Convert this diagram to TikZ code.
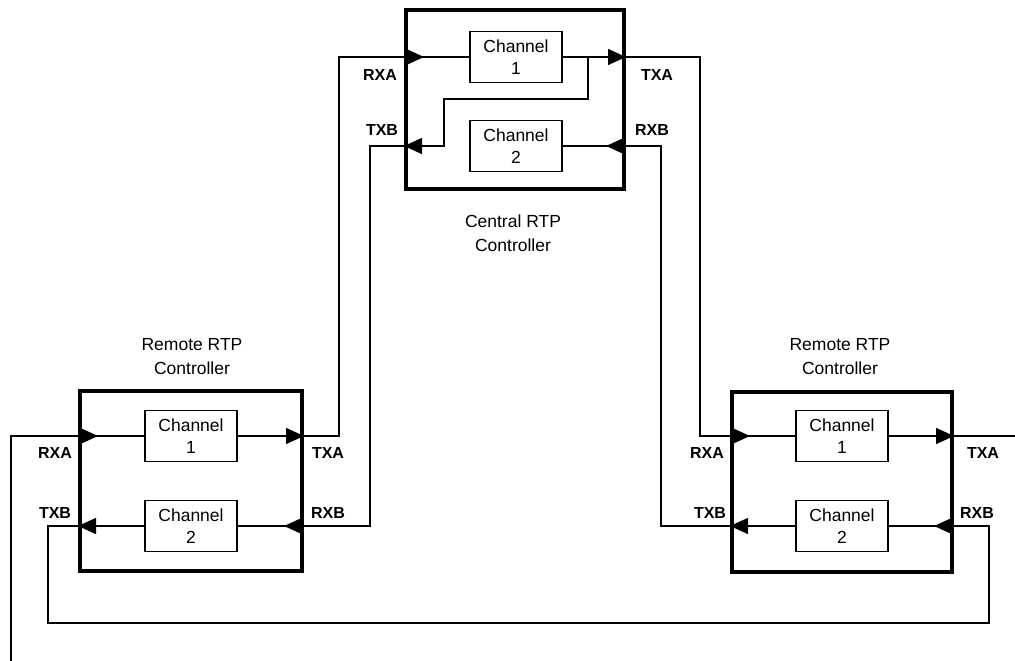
\documentclass[tikz,border=0pt]{standalone}
\usepackage{fontspec}
\setmainfont{Liberation Sans}
\usetikzlibrary{arrows.meta}
\begin{document}
\begin{tikzpicture}[x=1pt,y=-1pt,
  ctrlbox/.style={draw,line width=4pt,inner sep=0pt},
  chan/.style={draw,line width=1.2pt,minimum width=92pt,minimum height=51pt,inner sep=0pt,align=center,font=\fontsize{17.5}{22}\selectfont},
  wire/.style={line width=1.4pt},
  tip/.style={line width=1.4pt,-{Triangle[length=18pt,width=16pt]}},
  port/.style={font=\bfseries\fontsize{16}{18}\selectfont},
  title/.style={align=center,font=\fontsize{17.5}{24}\selectfont}]
\useasboundingbox (0,0) rectangle (1015,661);

% Central controller
\node[ctrlbox,minimum width=218pt,minimum height=179pt] (C) at (515,99.5) {};
\node[chan] (C1) at (516,57) {Channel\\1};
\node[chan] (C2) at (516,146) {Channel\\2};
\node[title] (Ct) at (513,233) {Central RTP\\Controller};

% Left remote controller
\node[ctrlbox,minimum width=222pt,minimum height=180pt] (L) at (191,481) {};
\node[chan] (L1) at (191,436) {Channel\\1};
\node[chan] (L2) at (191,526) {Channel\\2};
\node[title] (Lt) at (192,357) {Remote RTP\\Controller};

% Right remote controller
\node[ctrlbox,minimum width=220pt,minimum height=180pt] (R) at (842,481.5) {};
\node[chan] (R1) at (842,436) {Channel\\1};
\node[chan] (R2) at (842,526) {Channel\\2};
\node[title] (Rt) at (840,357) {Remote RTP\\Controller};

% port points
\coordinate (CRXA) at (C.west |- C1.west);
\coordinate (CTXA) at (C.east |- C1.east);
\coordinate (CTXB) at (C.west |- C2.west);
\coordinate (CRXB) at (C.east |- C2.east);
\coordinate (LRXA) at (L.west |- L1.west);
\coordinate (LTXA) at (L.east |- L1.east);
\coordinate (LTXB) at (L.west |- L2.west);
\coordinate (LRXB) at (L.east |- L2.east);
\coordinate (RRXA) at (R.west |- R1.west);
\coordinate (RTXA) at (R.east |- R1.east);
\coordinate (RTXB) at (R.west |- R2.west);
\coordinate (RRXB) at (R.east |- R2.east);
\coordinate (Cbr) at (588,57);
\coordinate (Cmid) at (444,99);
\coordinate (bot) at (48,623);
\coordinate (inL) at (11,661);
\coordinate (outR) at (1015,436);

% internal wiring, central
\draw[tip] (CRXA) -- ++(20,0);
\draw[wire] (CRXA) -- (C1.west);
\draw[tip] (C1.east) -- (CTXA);
\draw[tip] (Cbr) |- (Cmid) |- (CTXB);
\draw[tip] (CRXB) -- ++(-20,0);
\draw[wire] (CRXB) -- (C2.east);

% internal wiring, left
\draw[tip] (LRXA) -- ++(20,0);
\draw[wire] (LRXA) -- (L1.west);
\draw[tip] (L1.east) -- (LTXA);
\draw[tip] (L2.west) -- (LTXB);
\draw[tip] (LRXB) -- ++(-20,0);
\draw[wire] (LRXB) -- (L2.east);

% internal wiring, right
\draw[tip] (RRXA) -- ++(20,0);
\draw[wire] (RRXA) -- (R1.west);
\draw[tip] (R1.east) -- (RTXA);
\draw[tip] (R2.west) -- (RTXB);
\draw[tip] (RRXB) -- ++(-20,0);
\draw[wire] (RRXB) -- (R2.east);

% external wiring
\draw[wire] (LTXA) -- ++(35,0) |- (CRXA);
\draw[wire] (CTXB) -- ++(-34,0) |- (LRXB);
\draw[wire] (CTXA) -- ++(74,0) |- (RRXA);
\draw[wire] (RTXB) -- ++(-69,0) |- (CRXB);
\draw[wire] (RRXB) -- ++(35,0) |- (bot) |- (LTXB);
\draw[wire] (inL) |- (LRXA);
\draw[wire] (RTXA) -- (outR);

% port labels
\node[port] (pc1) at (380,75) {RXA};
\node[port] (pc2) at (657,75) {TXA};
\node[port] (pc3) at (382,130) {TXB};
\node[port] (pc4) at (652,130) {RXB};
\node[port] (pl1) at (55,453) {RXA};
\node[port] (pl2) at (328,453) {TXA};
\node[port] (pl3) at (55,513) {TXB};
\node[port] (pl4) at (328,513) {RXB};
\node[port] (pr1) at (707,453) {RXA};
\node[port] (pr2) at (983,453) {TXA};
\node[port] (pr3) at (710,513) {TXB};
\node[port] (pr4) at (977,513) {RXB};
\end{tikzpicture}
\end{document}
